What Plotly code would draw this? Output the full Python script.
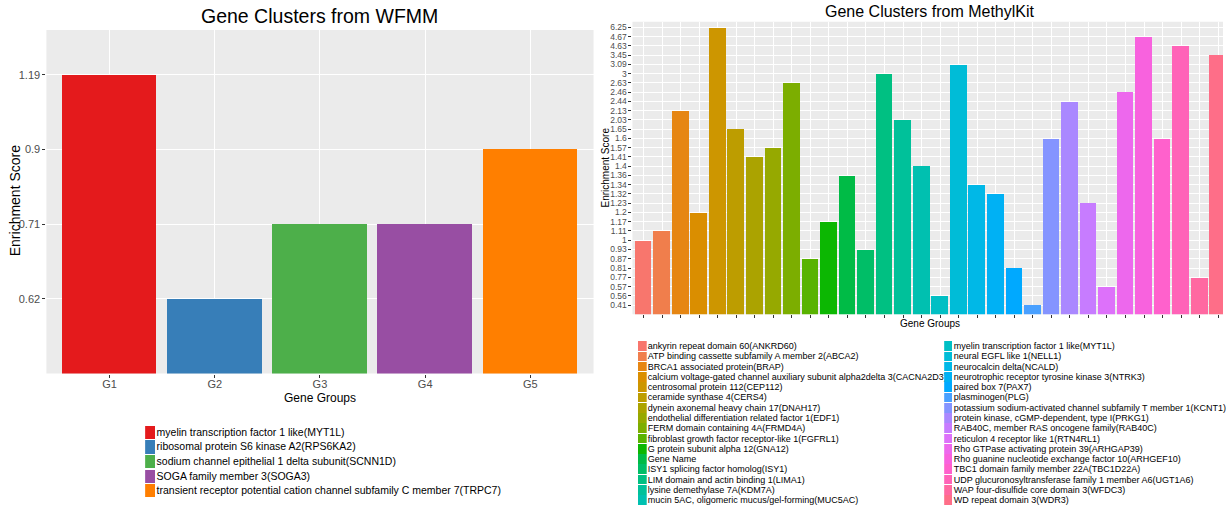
import math
import plotly.graph_objects as go

# ---------------- data ----------------
wfmm_groups = ["G1", "G2", "G3", "G4", "G5"]
wfmm_scores = [1.19, 0.62, 0.71, 0.71, 0.9]
wfmm_genes = [
    "myelin transcription factor 1 like(MYT1L)",
    "ribosomal protein S6 kinase A2(RPS6KA2)",
    "sodium channel epithelial 1 delta subunit(SCNN1D)",
    "SOGA family member 3(SOGA3)",
    "transient receptor potential cation channel subfamily C member 7(TRPC7)",
]

methylkit_genes = [
    "ankyrin repeat domain 60(ANKRD60)",
    "ATP binding cassette subfamily A member 2(ABCA2)",
    "BRCA1 associated protein(BRAP)",
    "calcium voltage-gated channel auxiliary subunit alpha2delta 3(CACNA2D3)",
    "centrosomal protein 112(CEP112)",
    "ceramide synthase 4(CERS4)",
    "dynein axonemal heavy chain 17(DNAH17)",
    "endothelial differentiation related factor 1(EDF1)",
    "FERM domain containing 4A(FRMD4A)",
    "fibroblast growth factor receptor-like 1(FGFRL1)",
    "G protein subunit alpha 12(GNA12)",
    "Gene Name",
    "ISY1 splicing factor homolog(ISY1)",
    "LIM domain and actin binding 1(LIMA1)",
    "lysine demethylase 7A(KDM7A)",
    "mucin 5AC, oligomeric mucus/gel-forming(MUC5AC)",
    "myelin transcription factor 1 like(MYT1L)",
    "neural EGFL like 1(NELL1)",
    "neurocalcin delta(NCALD)",
    "neurotrophic receptor tyrosine kinase 3(NTRK3)",
    "paired box 7(PAX7)",
    "plasminogen(PLG)",
    "potassium sodium-activated channel subfamily T member 1(KCNT1)",
    "protein kinase, cGMP-dependent, type I(PRKG1)",
    "RAB40C, member RAS oncogene family(RAB40C)",
    "reticulon 4 receptor like 1(RTN4RL1)",
    "Rho GTPase activating protein 39(ARHGAP39)",
    "Rho guanine nucleotide exchange factor 10(ARHGEF10)",
    "TBC1 domain family member 22A(TBC1D22A)",
    "UDP glucuronosyltransferase family 1 member A6(UGT1A6)",
    "WAP four-disulfide core domain 3(WFDC3)",
    "WD repeat domain 3(WDR3)",
]
methylkit_scores = [1, 1.11, 2.13, 1.2, 6.25, 1.65, 1.41, 1.57, 2.63, 0.87,
                    1.17, 1.36, 0.93, 3, 2.03, 1.4, 0.56, 3.09, 1.34, 1.32,
                    0.81, 0.41, 1.6, 2.44, 1.23, 0.57, 2.46, 4.67, 1.6, 4.63,
                    0.77, 3.45]

# ---------------- styles ----------------
W, H = 1226, 507
SANS = "Liberation Sans, Arial, sans-serif"
set1 = ["#E41A1C", "#377EB8", "#4DAF4A", "#984EA3", "#FF7F00"]


def hcl_hex(h, c=100.0, l=65.0):
    hr = math.radians(h)
    u, v = c * math.cos(hr), c * math.sin(hr)
    Xn, Yn, Zn = 95.047, 100.0, 108.883
    Y = Yn * (((l + 16) / 116) ** 3 if l > 8 else l / 903.3)
    den = Xn + 15 * Yn + 3 * Zn
    un, vn = 4 * Xn / den, 9 * Yn / den
    up, vp = u / (13 * l) + un, v / (13 * l) + vn
    X = Y * 9 * up / (4 * vp)
    Z = Y * (12 - 3 * up - 20 * vp) / (4 * vp)
    x, y, z = X / 100, Y / 100, Z / 100
    rgb = [3.240479 * x - 1.537150 * y - 0.498535 * z,
           -0.969256 * x + 1.875992 * y + 0.041556 * z,
           0.055648 * x - 0.204043 * y + 1.057311 * z]
    out = []
    for ch in rgb:
        ch = 12.92 * ch if ch <= 0.0031308 else 1.055 * ch ** (1 / 2.4) - 0.055
        out.append(int(round(min(max(ch, 0), 1) * 255)))
    return "#%02X%02X%02X" % tuple(out)


n_mk = len(methylkit_genes)
hue_colors = [hcl_hex(15 + 360 * i / n_mk) for i in range(n_mk)]


def fx(px):
    return px / W


def fy(py):
    return 1 - py / H


def ranks(values):
    levels = sorted(set(values))
    return levels, [levels.index(v) + 1 for v in values]


wf_levels, wf_rank = ranks(wfmm_scores)
mk_levels, mk_rank = ranks(methylkit_scores)

fig = go.Figure()

# main bars
fig.add_trace(go.Bar(x=wfmm_groups, y=wf_rank, marker=dict(color=set1, line=dict(width=0)),
                     width=0.9, xaxis="x", yaxis="y", hoverinfo="skip"))
fig.add_trace(go.Bar(x=methylkit_genes, y=mk_rank, marker=dict(color=hue_colors, line=dict(width=0)),
                     width=0.9, xaxis="x2", yaxis="y2", hoverinfo="skip"))

# legend swatches drawn as small horizontal bar charts
fig.add_trace(go.Bar(x=[1] * len(wfmm_genes), y=wfmm_genes, orientation="h",
                     marker=dict(color=set1, line=dict(width=0)), width=0.9,
                     xaxis="x3", yaxis="y3", hoverinfo="skip"))
half = n_mk // 2
fig.add_trace(go.Bar(x=[1] * half, y=methylkit_genes[:half], orientation="h",
                     marker=dict(color=hue_colors[:half], line=dict(width=0)), width=0.94,
                     xaxis="x4", yaxis="y4", hoverinfo="skip"))
fig.add_trace(go.Bar(x=[1] * (n_mk - half), y=methylkit_genes[half:], orientation="h",
                     marker=dict(color=hue_colors[half:], line=dict(width=0)), width=0.94,
                     xaxis="x5", yaxis="y5", hoverinfo="skip"))

common_axis = dict(ticks="outside", ticklen=3, tickwidth=1, tickcolor="#333333",
                   showgrid=True, gridcolor="#FFFFFF", gridwidth=1,
                   zeroline=False, showline=False, fixedrange=True)

legend_y = dict(type="category", side="right", showgrid=False, ticks="",
                zeroline=False, showline=False, tickmode="array")
legend_x = dict(range=[0, 1], visible=False)

fig.update_layout(
    width=W, height=H, margin=dict(l=0, r=0, t=0, b=0),
    paper_bgcolor="#FFFFFF", plot_bgcolor="#FFFFFF", showlegend=False,
    bargap=0,
    xaxis=dict(domain=[fx(46.5), fx(595)], anchor="y", type="category",
               categoryarray=wfmm_groups, categoryorder="array", range=[-0.6, 4.6],
               ticklabelstandoff=-3,
               tickfont=dict(family=SANS, size=11, color="#4D4D4D"), **common_axis),
    yaxis=dict(domain=[fy(373.5), fy(30)], anchor="x", range=[0, 4.6],
               tickvals=list(range(1, len(wf_levels) + 1)),
               ticktext=[f"{v:g}" for v in wf_levels],
               tickfont=dict(family=SANS, size=11, color="#4D4D4D"), **common_axis),
    xaxis2=dict(domain=[fx(634), 1.0], anchor="y2", type="category",
                categoryarray=methylkit_genes, categoryorder="array",
                range=[-0.6, 31.26], showticklabels=False, **common_axis),
    yaxis2=dict(domain=[fy(314.3), fy(21.7)], anchor="x2", range=[0, 31.6],
                tickvals=list(range(1, len(mk_levels) + 1)),
                ticktext=[f"{v:g}" for v in mk_levels],
                tickfont=dict(family=SANS, size=8.5, color="#4D4D4D"), **common_axis),
    xaxis3=dict(domain=[fx(145.5), fx(156)], anchor="y3", **legend_x),
    yaxis3=dict(domain=[fy(497.8), fy(424.7)], anchor="x3", categoryarray=wfmm_genes,
                categoryorder="array", tickvals=wfmm_genes,
                range=[len(wfmm_genes) - 0.5, -0.5],
                tickfont=dict(family=SANS, size=10.5, color="#000000"), **legend_y),
    xaxis4=dict(domain=[fx(639.5), fx(648.3)], anchor="y4", **legend_x),
    yaxis4=dict(domain=[fy(505.1), fy(340.9)], anchor="x4", categoryarray=methylkit_genes[:half],
                categoryorder="array", tickvals=methylkit_genes[:half], range=[half - 0.5, -0.5],
                tickfont=dict(family=SANS, size=9, color="#000000"), **legend_y),
    xaxis5=dict(domain=[fx(946.5), fx(955)], anchor="y5", **legend_x),
    yaxis5=dict(domain=[fy(505.1), fy(340.9)], anchor="x5", categoryarray=methylkit_genes[half:],
                categoryorder="array", tickvals=methylkit_genes[half:],
                range=[n_mk - half - 0.5, -0.5],
                tickfont=dict(family=SANS, size=9, color="#000000"), **legend_y),
    shapes=[
        dict(type="rect", xref="x domain", yref="y domain", x0=0, x1=1, y0=0, y1=1,
             fillcolor="#EBEBEB", line=dict(width=0), layer="below"),
        dict(type="rect", xref="x2 domain", yref="y2 domain", x0=0, x1=1, y0=0, y1=1,
             fillcolor="#EBEBEB", line=dict(width=0), layer="below"),
    ],
    annotations=[
        dict(text="Gene Clusters from WFMM", x=fx(320.5), y=fy(16), xref="paper", yref="paper",
             xanchor="center", yanchor="middle", showarrow=False,
             font=dict(family=SANS, size=19.5, color="#000000")),
        dict(text="Enrichment Score", x=fx(15.3), y=fy(201), xref="paper", yref="paper",
             xanchor="center", yanchor="middle", showarrow=False, textangle=-90,
             font=dict(family=SANS, size=14, color="#000000")),
        dict(text="Gene Groups", x=fx(321), y=fy(398), xref="paper", yref="paper",
             xanchor="center", yanchor="middle", showarrow=False,
             font=dict(family=SANS, size=12, color="#000000")),
        dict(text="Gene Clusters from MethylKit", x=fx(932.5), y=fy(11), xref="paper", yref="paper",
             xanchor="center", yanchor="middle", showarrow=False,
             font=dict(family=SANS, size=16, color="#000000")),
        dict(text="Enrichment Score", x=fx(606), y=fy(168), xref="paper", yref="paper",
             xanchor="center", yanchor="middle", showarrow=False, textangle=-90,
             font=dict(family=SANS, size=10, color="#000000")),
        dict(text="Gene Groups", x=fx(932), y=fy(323.5), xref="paper", yref="paper",
             xanchor="center", yanchor="middle", showarrow=False,
             font=dict(family=SANS, size=10, color="#000000")),
    ],
)

fig.write_html("out.html")
